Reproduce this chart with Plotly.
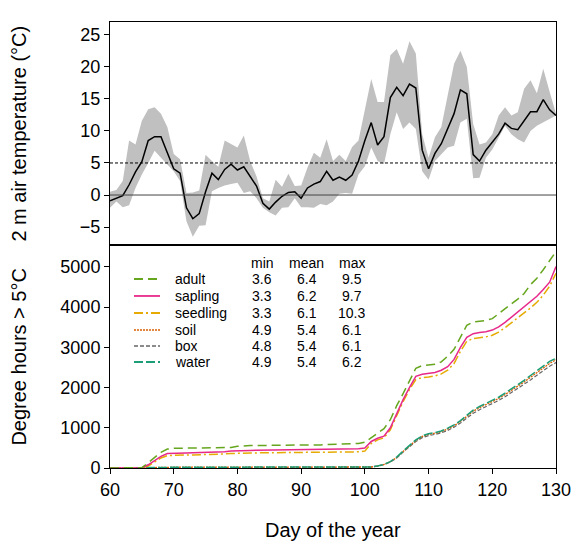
import plotly.graph_objects as go
from plotly.subplots import make_subplots

days = list(range(60, 131))

temp_mean = [-0.9, -0.5, -0.1, 1.6, 3.6, 5.2, 8.5, 9.1, 9.1, 6.6,
             4.1, 3.4, -2.0, -3.7, -2.9, 0.5, 3.4, 2.4, 4.0, 4.8,
             3.9, 4.4, 2.8, 1.4, -1.3, -2.2, -1.1, -0.2, 0.4, 0.5,
             -0.5, 1.1, 1.7, 2.1, 3.7, 2.3, 2.8, 2.3, 3.1, 5.3,
             8.5, 11.3, 7.8, 9.1, 15.2, 16.8, 15.5, 17.3, 16.7, 7.0,
             4.1, 6.5, 8.0, 10.3, 12.7, 16.4, 15.8, 6.3, 5.3, 7.0,
             8.2, 9.5, 11.2, 10.4, 10.2, 11.7, 13.0, 13.0, 14.9, 13.3,
             12.4]
temp_upper = [0.5, 0.8, 2.2, 8.5, 7.9, 11.6, 13.4, 13.7, 12.7, 10.6,
              6.4, 5.6, 0.3, 0.4, 0.7, 6.3, 5.3, 4.4, 8.5, 7.9,
              7.4, 9.3, 5.3, 2.9, -0.5, -1.0, 2.4, 1.3, 3.3, 1.4,
              1.5, 4.3, 6.6, 5.8, 8.7, 5.3, 6.3, 5.3, 7.5, 8.5,
              13.4, 18.1, 14.5, 14.5, 21.8, 22.8, 20.5, 24.0, 22.1, 9.5,
              5.8, 9.0, 10.6, 15.3, 20.5, 22.5, 20.0, 11.1, 7.9, 8.2,
              9.5, 12.4, 13.7, 12.4, 12.9, 16.6, 17.9, 15.9, 19.7, 16.1,
              12.7]
temp_lower = [-2.0, -1.0, -1.9, -1.6, 1.1, 3.2, 5.0, 6.9, 5.8, 4.8,
              3.7, 2.2, -4.1, -6.5, -4.8, -4.7, 0.6, 1.1, 1.5, 1.7,
              1.9, 0.3, 0.6, -0.5, -2.0, -2.7, -3.2, -2.0, -1.9, -0.5,
              -1.9, -1.9, -2.0, -1.4, -1.6, -1.0, 0.2, 0.3, 0.2, 3.2,
              4.5, 7.4, 5.3, 4.8, 9.5, 12.9, 10.3, 11.3, 10.3, 3.7,
              2.4, 5.3, 6.4, 7.4, 7.7, 11.3, 11.9, 2.6, 2.7, 5.8,
              7.1, 9.0, 10.8, 9.5, 8.7, 8.2, 10.0, 10.8, 11.3, 11.9,
              12.4]

adult = [0, 0, 0, 0, 0, 10, 130, 260, 390, 470,
         492, 492, 492, 492, 492, 492, 495, 500, 505, 510,
         540, 557, 560, 560, 560, 560, 560, 560, 560, 560,
         560, 565, 570, 575, 585, 590, 592, 595, 600, 610,
         640, 760, 860, 980, 1200, 1550, 1850, 2150, 2480, 2545,
         2555, 2580, 2640, 2780, 2950, 3250, 3550, 3630, 3645, 3670,
         3715, 3830, 3950, 4080, 4200, 4340, 4560, 4720, 4930, 5150,
         5380]
sapling = [0, 0, 0, 0, 0, 0, 80, 180, 290, 360,
           370, 372, 375, 378, 380, 385, 390, 395, 405, 420,
           432, 436, 438, 440, 442, 444, 446, 448, 450, 452,
           454, 456, 458, 460, 463, 465, 467, 470, 475, 480,
           495, 660, 740, 790, 1000, 1350, 1700, 2000, 2280, 2330,
           2345, 2375, 2430, 2520, 2700, 3000, 3250, 3340, 3370, 3390,
           3430, 3510, 3620, 3750, 3880, 4000, 4130, 4270, 4440, 4620,
           5010]
seedling = [0, 0, 0, 0, 0, 0, 50, 150, 250, 310,
            320, 322, 324, 326, 328, 332, 336, 340, 350, 360,
            369, 372, 374, 376, 378, 380, 381, 382, 383, 384,
            385, 386, 388, 389, 390, 391, 393, 395, 398, 402,
            420, 610, 700, 750, 950, 1300, 1650, 1950, 2200, 2250,
            2260, 2290, 2340, 2430, 2600, 2900, 3150, 3220, 3240, 3260,
            3300, 3380, 3490, 3610, 3730, 3850, 3980, 4120, 4300, 4520,
            4840]
soil = [0, 0, 0, 0, 0, 0, 0, 0, 0, 15,
        20, 20, 20, 20, 20, 20, 20, 20, 20, 20,
        20, 20, 20, 20, 20, 20, 20, 20, 20, 20,
        20, 20, 20, 20, 20, 20, 20, 20, 20, 20,
        20, 25, 48, 88, 155, 262, 410, 555, 685, 785,
        835, 865, 905, 970, 1050, 1160, 1285, 1410, 1500, 1570,
        1650, 1730, 1825, 1925, 2030, 2140, 2255, 2375, 2490, 2600,
        2690]
box = [0, 0, 0, 0, 0, 0, 0, 0, 0, 12,
       18, 18, 18, 18, 18, 18, 18, 18, 18, 18,
       18, 18, 18, 18, 18, 18, 18, 18, 18, 18,
       18, 18, 18, 18, 18, 18, 18, 18, 18, 18,
       18, 22, 45, 82, 148, 250, 395, 535, 660, 755,
       805, 835, 875, 935, 1015, 1120, 1240, 1360, 1450, 1520,
       1600, 1680, 1770, 1870, 1970, 2080, 2190, 2305, 2420, 2530,
       2620]
water = [0, 0, 0, 0, 0, 0, 0, 0, 0, 15,
         20, 20, 20, 20, 20, 20, 20, 20, 20, 20,
         20, 20, 20, 20, 20, 20, 20, 20, 20, 20,
         20, 20, 20, 20, 20, 20, 20, 20, 20, 20,
         20, 25, 50, 90, 160, 270, 420, 570, 700, 800,
         850, 880, 920, 990, 1070, 1180, 1310, 1440, 1530, 1600,
         1680, 1760, 1860, 1960, 2070, 2180, 2300, 2420, 2540, 2650,
         2730]

series_names = ["adult", "sapling", "seedling", "soil", "box", "water"]
series_values = [adult, sapling, seedling, soil, box, water]
stat_min = ["3.6", "3.3", "3.3", "4.9", "4.8", "4.9"]
stat_mean = ["6.4", "6.2", "6.1", "5.4", "5.4", "5.4"]
stat_max = ["9.5", "9.7", "10.3", "6.1", "6.1", "6.2"]

colors = ["#66A61E", "#E7298A", "#E6AB02", "#D95F02", "#666666", "#1B9E77"]
dashes = ["9px,5px", "solid", "9px,3px,2px,3px", "2px,1px", "4px,2px", "9px,3px"]
widths = [1.5, 1.5, 1.5, 1.3, 1.2, 1.5]

FONT = "Liberation Sans, Arial, sans-serif"

fig = make_subplots(rows=2, cols=1, shared_xaxes=True, vertical_spacing=0)

# top: band + mean
fig.add_trace(go.Scatter(x=days, y=temp_lower, mode="lines", line=dict(width=0),
                         showlegend=False, hoverinfo="skip"), row=1, col=1)
fig.add_trace(go.Scatter(x=days, y=temp_upper, mode="lines", line=dict(width=0),
                         fill="tonexty", fillcolor="#c0c0c0", showlegend=False,
                         hoverinfo="skip"), row=1, col=1)
fig.add_hline(y=0, line=dict(color="#444444", width=1), row=1, col=1)
fig.add_hline(y=5, line=dict(color="black", width=1, dash="3px,2px"), row=1, col=1)
fig.add_trace(go.Scatter(x=days, y=temp_mean, mode="lines",
                         line=dict(color="black", width=1.5), showlegend=False),
              row=1, col=1)

# bottom: cumulative degree hours
order = [4, 3, 5, 2, 1, 0]
for i in order:
    fig.add_trace(go.Scatter(x=days, y=series_values[i], mode="lines",
                             name=series_names[i],
                             line=dict(color=colors[i], width=widths[i], dash=dashes[i]),
                             showlegend=False), row=2, col=1)

# custom legend table (paper coords)
row_y = [0.4238, 0.3857, 0.3475, 0.3094, 0.2735, 0.2377]
header_y = 0.4596
x_line0, x_line1 = 0.0538, 0.1121
x_label = 0.1413
x_min, x_mean, x_max = 0.341, 0.4417, 0.5426
lfont = dict(family=FONT, size=14, color="black")
for txt, xx in [("min", x_min), ("mean", x_mean), ("max", x_max)]:
    fig.add_annotation(xref="paper", yref="paper", x=xx, y=header_y, text=txt,
                       showarrow=False, font=lfont, xanchor="center", yanchor="middle",
                       height=16)
for i, name in enumerate(series_names):
    yy = row_y[i]
    fig.add_shape(type="line", xref="paper", yref="paper", x0=x_line0, x1=x_line1,
                  y0=yy, y1=yy, line=dict(color=colors[i], width=widths[i] + 0.3,
                                          dash=dashes[i]))
    fig.add_annotation(xref="paper", yref="paper", x=x_label, y=yy, text=name,
                       showarrow=False, font=lfont, xanchor="left", yanchor="middle",
                       height=16)
    for txt, xx in [(stat_min[i], x_min), (stat_mean[i], x_mean), (stat_max[i], x_max)]:
        fig.add_annotation(xref="paper", yref="paper", x=xx, y=yy, text=txt,
                           showarrow=False, font=lfont, xanchor="center", yanchor="middle",
                           height=16)

# axis titles
tfont = dict(family=FONT, size=20, color="black")
fig.add_annotation(xref="paper", yref="paper", x=-0.206, y=0.75,
                   text="2 m air temperature (°C)", textangle=-90, showarrow=False,
                   font=tfont, xanchor="center", yanchor="middle")
fig.add_annotation(xref="paper", yref="paper", x=-0.206, y=0.25,
                   text="Degree hours > 5°C", textangle=-90, showarrow=False,
                   font=tfont, xanchor="center", yanchor="middle")
fig.add_annotation(xref="paper", yref="paper", x=0.5, y=-0.139,
                   text="Day of the year", showarrow=False,
                   font=tfont, xanchor="center", yanchor="middle")

axis_common = dict(showline=True, linecolor="black", linewidth=1, mirror=True,
                   showgrid=False, zeroline=False, automargin=False,
                   tickfont=dict(family=FONT, size=18, color="black"))
fig.update_xaxes(range=[60, 130], **axis_common)
fig.update_xaxes(ticks="", showticklabels=False, row=1, col=1)
fig.update_xaxes(ticks="outside", ticklen=5, tickcolor="black", tickvals=list(range(60, 131, 10)),
                 row=2, col=1)
fig.update_yaxes(**axis_common)
fig.update_yaxes(range=[-7.8, 27.0], tickvals=[-5, 0, 5, 10, 15, 20, 25], ticks="outside",
                 ticklen=5, tickcolor="black", row=1, col=1)
fig.update_yaxes(range=[0, 5545], tickvals=[0, 1000, 2000, 3000, 4000, 5000],
                 ticktext=["0", "1000", "2000", "3000", "4000", "5000"], ticks="outside",
                 ticklen=5, tickcolor="black", row=2, col=1)

fig.update_layout(width=576, height=546, margin=dict(l=110, r=20, t=22, b=78),
                  plot_bgcolor="white", paper_bgcolor="white",
                  font=dict(family=FONT, color="black"), showlegend=False)

# remove the default page margin so the figure sits at the window's top-left corner
fig.write_html("out.html",
               config={"displayModeBar": False, "staticPlot": True},
               post_script="document.body.style.margin='0px';"
                           "document.documentElement.style.overflow='hidden';")
